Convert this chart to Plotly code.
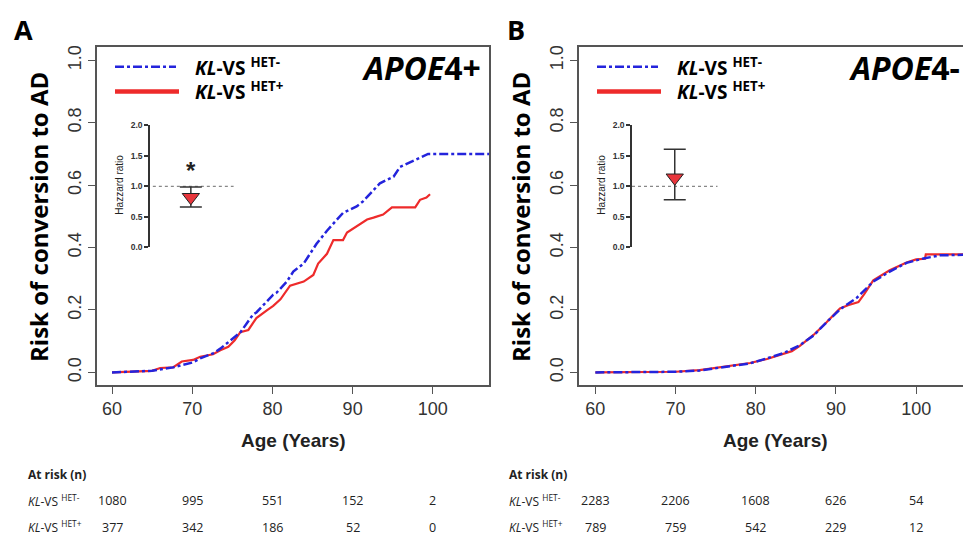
import plotly.graph_objects as go

W, H = 963, 543

# ---------------- data ----------------
tick_ages = [60, 70, 80, 90, 100]

# Panel A (APOE4+)
age_a_neg = [60, 62, 65, 67.6, 70.1, 71, 72.6, 73.5, 75.1, 76, 77.6, 78.0, 80.1, 80.5, 81.8,
             82.6, 83.9, 85.5, 86.8, 88.8, 90.5, 91.3, 93.4, 95.1, 95.9, 98.0, 99.4, 107]
risk_a_neg = [0, 0.002, 0.005, 0.016, 0.032, 0.045, 0.061, 0.076, 0.108, 0.128, 0.186, 0.192,
              0.249, 0.255, 0.291, 0.323, 0.349, 0.412, 0.454, 0.511, 0.532, 0.548, 0.606,
              0.627, 0.658, 0.684, 0.700, 0.700]
age_a_pos = [60, 63, 65, 66, 67.6, 68.7, 70.1, 71, 72.6, 73.5, 74.5, 75.3, 76.0, 77.0, 78.0,
             79.3, 80.1, 81.0, 82.2, 83.9, 85.1, 85.7, 86.8, 87.6, 88.8, 89.3, 90.5, 91.8,
             92.6, 93.8, 94.9, 97.8, 98.4, 99.2, 99.65]
risk_a_pos = [0, 0.002, 0.005, 0.014, 0.016, 0.035, 0.040, 0.050, 0.058, 0.071, 0.082, 0.103,
              0.129, 0.136, 0.174, 0.199, 0.213, 0.234, 0.278, 0.291, 0.312, 0.349, 0.380,
              0.424, 0.424, 0.448, 0.469, 0.490, 0.496, 0.506, 0.529, 0.529, 0.553, 0.560,
              0.571]

# Panel B (APOE4-)
age_b_neg = [60, 65, 70, 73, 76.8, 79.3, 81.4, 83.4, 85.5, 87.2, 88.8, 90.5, 92.6, 94.65,
             96.7, 98.8, 100.9, 103, 106]
risk_b_neg = [0, 0, 0.002, 0.006, 0.019, 0.029, 0.045, 0.061, 0.087, 0.118, 0.160, 0.202,
              0.239, 0.291, 0.323, 0.351, 0.365, 0.375, 0.377]
age_b_pos = [60, 65, 70, 73, 76.8, 79.3, 81.4, 83.4, 84.5, 85.5, 87.2, 88.8, 90.5, 91.5,
             92.8, 93.5, 94.65, 96.7, 98.8, 100.0, 101.1, 101.2, 106]
risk_b_pos = [0, 0, 0.002, 0.007, 0.020, 0.030, 0.043, 0.058, 0.068, 0.085, 0.120, 0.160,
              0.205, 0.215, 0.225, 0.250, 0.295, 0.327, 0.352, 0.362, 0.364, 0.378, 0.378]

# Hazard ratio insets: [estimate, lower, upper]
hr_a = [0.82, 0.66, 0.99]
hr_b = [1.14, 0.78, 1.61]

# At-risk table
at_risk_a_neg = [1080, 995, 551, 152, 2]
at_risk_a_pos = [377, 342, 186, 52, 0]
at_risk_b_neg = [2283, 2206, 1608, 626, 54]
at_risk_b_pos = [789, 759, 542, 229, 12]

BLUE = "#2424dc"
RED = "#ee2b2b"
AX = "#555555"
TXT = "#333333"


def px(x):
    return x / W


def py(y):
    return (H - y) / H


fig = go.Figure()

# main curves
fig.add_trace(go.Scatter(x=age_a_pos, y=risk_a_pos, mode="lines", xaxis="x", yaxis="y",
                         line=dict(color=RED, width=2.2), showlegend=False))
fig.add_trace(go.Scatter(x=age_a_neg, y=risk_a_neg, mode="lines", xaxis="x", yaxis="y",
                         line=dict(color=BLUE, width=2.5, dash="dashdot"), showlegend=False))
fig.add_trace(go.Scatter(x=age_b_pos, y=risk_b_pos, mode="lines", xaxis="x2", yaxis="y2",
                         line=dict(color=RED, width=2.2), showlegend=False))
fig.add_trace(go.Scatter(x=age_b_neg, y=risk_b_neg, mode="lines", xaxis="x2", yaxis="y2",
                         line=dict(color=BLUE, width=2.5, dash="dashdot"), showlegend=False))

# inset traces
for hr, xa, ya, xm, xl in [(hr_a, "x3", "y3", 0.43, [0.03, 0.88]),
                           (hr_b, "x4", "y4", 0.45, [0.0, 0.90])]:
    fig.add_trace(go.Scatter(x=xl, y=[1, 1], mode="lines", xaxis=xa, yaxis=ya,
                             line=dict(color="#888888", width=1.2, dash="dot"), showlegend=False))
    fig.add_trace(go.Scatter(x=[xm], y=[hr[0]], mode="markers", xaxis=xa, yaxis=ya,
                             marker=dict(symbol="triangle-down", size=15, color="#e8363c",
                                         line=dict(color="#222222", width=1)),
                             error_y=dict(type="data", symmetric=False,
                                          array=[hr[2] - hr[0]], arrayminus=[hr[0] - hr[1]],
                                          color="#333333", thickness=1.5, width=11),
                             showlegend=False))

main_font = dict(family="Liberation Sans, Arial, sans-serif", size=18, color=TXT)

common_x = dict(showline=True, linecolor=AX, linewidth=1.5, ticks="outside", ticklen=7,
                tickcolor=AX, tickwidth=1.2, tickvals=tick_ages, showgrid=False,
                zeroline=False, tickfont=main_font)
common_y = dict(showline=True, linecolor=AX, linewidth=1.5, ticks="outside", ticklen=7,
                tickcolor=AX, tickwidth=1.2, tickvals=[0, 0.2, 0.4, 0.6, 0.8, 1.0],
                ticktext=["0.0", "0.2", "0.4", "0.6", "0.8", "1.0"], tickangle=-90,
                showgrid=False, zeroline=False, tickfont=main_font, range=[-0.04, 1.042])

ydom = [py(387), py(43)]

inset_y = dict(range=[0, 2], showline=True, linecolor="#333333", linewidth=1.5,
               ticks="outside", ticklen=4, tickcolor="#333333", tickwidth=1.5,
               tickvals=[0, 0.5, 1, 1.5, 2], ticktext=["0.0", "0.5", "1.0", "1.5", "2.0"],
               tickfont=dict(family="Liberation Sans, Arial", size=8.5, color="#333333",
                             weight="bold"),
               showgrid=False, zeroline=False, domain=[py(246.7), py(122.7)])
inset_x = dict(range=[0, 1], visible=False, showgrid=False, zeroline=False)

fig.update_layout(
    width=W, height=H, margin=dict(l=0, r=0, t=0, b=0),
    paper_bgcolor="white", plot_bgcolor="rgba(0,0,0,0)",
    xaxis=dict(domain=[px(97), px(489)], range=[58.13, 107.0], mirror=True, anchor="y",
               **common_x),
    yaxis=dict(domain=ydom, mirror=True, anchor="x", **common_y),
    xaxis2=dict(domain=[px(579), 1.0], range=[57.96, 105.84], mirror=True, anchor="y2",
                **common_x),
    yaxis2=dict(domain=ydom, mirror=False, anchor="x2", **common_y),
    xaxis3=dict(domain=[px(150), px(245)], anchor="y3", **inset_x),
    yaxis3=dict(anchor="x3", **inset_y),
    xaxis4=dict(domain=[px(632), px(727)], anchor="y4", **inset_x),
    yaxis4=dict(anchor="x4", **inset_y),
)

ann = []
shapes = []

bold_font = "Open Sans, Liberation Sans, sans-serif"

for (xa, x_title, x_lab, x_panel, x_leg0, x_leg1, x_legtxt, x_hr, tag, x_tag, hr,
     neg, pos) in [
        ("x", 38, 293, 23, 115, 176, 193, 120, "<i>APOE</i>4+", 483, hr_a,
         at_risk_a_neg, at_risk_a_pos),
        ("x2", 520, 775, 516, 597, 658, 675, 602, "<i>APOE</i>4-", 847, hr_b,
         at_risk_b_neg, at_risk_b_pos)]:
    # y-axis title
    ann.append(dict(text="Risk of conversion to AD", x=px(x_title), y=py(216), xref="paper",
                    yref="paper", showarrow=False, textangle=-90, xanchor="center",
                    yanchor="middle",
                    font=dict(family=bold_font, size=24, color="black", weight="bold")))
    # x-axis title
    ann.append(dict(text="Age (Years)", x=px(x_lab), y=py(444), xref="paper", yref="paper",
                    showarrow=False, xanchor="center", yanchor="middle",
                    font=dict(family="Liberation Sans, Arial", size=19, color="#222222",
                              weight="bold")))
    # panel letter
    ann.append(dict(text=("A" if xa == "x" else "B"), x=px(x_panel), y=py(25), xref="paper",
                    yref="paper", showarrow=False, xanchor="center", yanchor="middle",
                    font=dict(family=bold_font, size=27, color="black", weight="bold")))
    # panel tag
    ann.append(dict(text=tag, x=px(x_tag), y=py(64), xref="paper", yref="paper",
                    showarrow=False, xanchor=("right" if xa == "x" else "left"),
                    yanchor="middle",
                    font=dict(family=bold_font, size=32, color="black", weight="bold")))
    # legend
    shapes.append(dict(type="line", xref="paper", yref="paper", x0=px(x_leg0), x1=px(x_leg1),
                       y0=py(63), y1=py(63), line=dict(color=BLUE, width=2.5, dash="dashdot")))
    shapes.append(dict(type="line", xref="paper", yref="paper", x0=px(x_leg0),
                       x1=px(x_leg1 + 3), y0=py(88), y1=py(88),
                       line=dict(color=RED, width=4.5)))
    for lab, yy in [("HET-", 63), ("HET+", 88)]:
        ann.append(dict(text="<i>KL</i>-VS <sup>" + lab + "</sup>", x=px(x_legtxt), y=py(yy),
                        xref="paper", yref="paper", showarrow=False, xanchor="left",
                        yanchor="middle",
                        font=dict(family=bold_font, size=19, color="black", weight="bold")))
    # inset title
    ann.append(dict(text="Hazzard ratio", x=px(x_hr), y=py(183), xref="paper", yref="paper",
                    showarrow=False, textangle=-90, xanchor="center", yanchor="middle",
                    font=dict(family="Liberation Sans, Arial", size=10, color="#222222")))
    # at-risk table
    x_tab = 26 if xa == "x" else 507
    ann.append(dict(text="At risk (n)", x=px(x_tab), y=py(478), xref="paper", yref="paper",
                    showarrow=False, xanchor="left", yanchor="middle",
                    font=dict(family=bold_font, size=12, color="#222222", weight="bold")))
    for row, yy, lab in [(neg, 505, "HET-"), (pos, 532, "HET+")]:
        ann.append(dict(text="<i>KL</i>-VS <sup>" + lab + "</sup>", x=px(x_tab), y=py(yy),
                        xref="paper", yref="paper", showarrow=False, xanchor="left",
                        yanchor="middle",
                        font=dict(family=bold_font, size=12, color="#222222")))
        for a, n in zip(tick_ages, row):
            ann.append(dict(text=str(n), x=a, y=py(yy), xref=xa, yref="paper",
                            showarrow=False, xanchor="center", yanchor="middle",
                            font=dict(family=bold_font, size=12.5, color="#222222")))

# asterisk for panel A inset
ann.append(dict(text="*", x=0.43, y=1.33, xref="x3", yref="y3", showarrow=False,
                xanchor="center", yanchor="middle", yshift=-4,
                font=dict(family="Liberation Sans, Arial", size=24, color="#222222",
                          weight="bold")))

fig.update_layout(annotations=ann, shapes=shapes)
fig.write_html("out.html", config={"displayModeBar": False},
               post_script="document.body.style.margin='0';document.body.style.padding='0';")
